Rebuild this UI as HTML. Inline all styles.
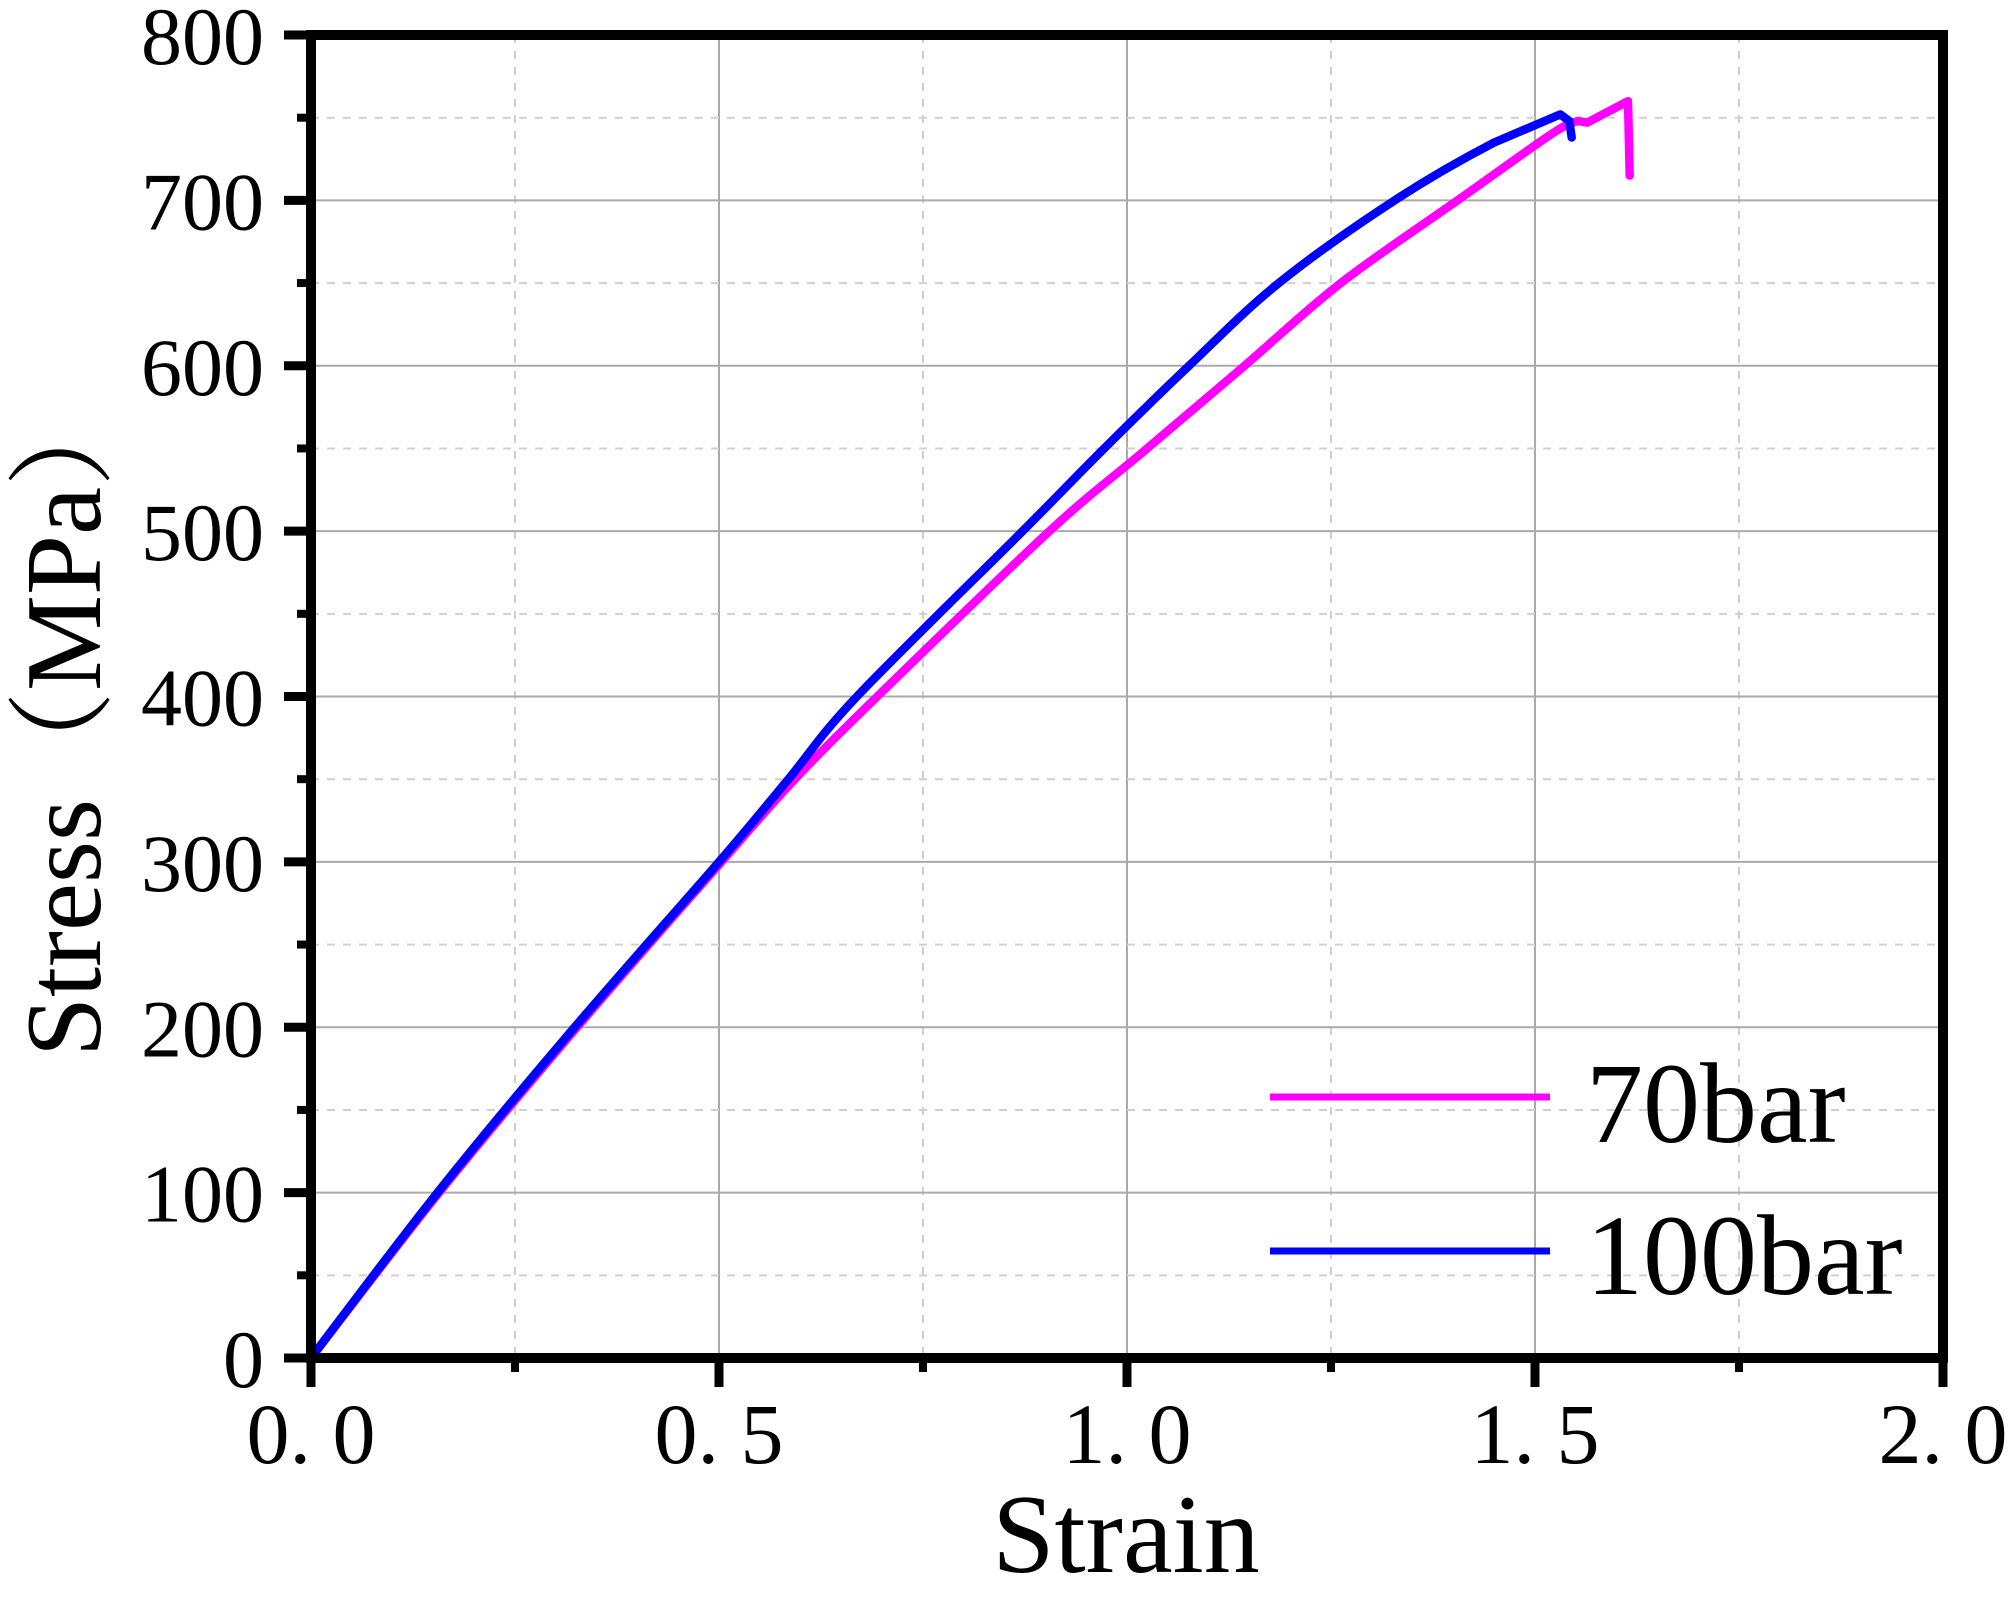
<!DOCTYPE html>
<html><head><meta charset="utf-8"><style>
html,body{margin:0;padding:0;background:#fff;}
svg{display:block;font-family:"Liberation Serif","Noto Serif CJK SC",serif;}
</style></head><body>
<svg id="chart" width="2012" height="1620" viewBox="0 0 2012 1620" xmlns="http://www.w3.org/2000/svg">
<g id="grid"></g>
<g id="series"></g>
<g id="axes"></g>
<text x="1126" y="1572" font-size="112" text-anchor="middle">Strain</text>
<text transform="translate(100,718) rotate(-90)" font-size="108" text-anchor="middle">Stress（MPa）</text>
<g>
<line x1="1270" y1="1097" x2="1550" y2="1097" stroke="#ff00ff" stroke-width="7"/>
<text x="1586" y="1142" font-size="114">70bar</text>
<line x1="1270" y1="1251" x2="1550" y2="1251" stroke="#0000ff" stroke-width="7"/>
<text x="1586" y="1294" font-size="114">100bar</text>
</g>
</svg>
<script>
const xTicks=[0,0.5,1.0,1.5,2.0];
const xTickLabels=["0. 0","0. 5","1. 0","1. 5","2. 0"];
const yTicks=[0,100,200,300,400,500,600,700,800];
const x70=[0,0.157,0.326,0.503,0.593,0.694,0.905,1.02,1.144,1.262,1.405,1.52,1.553,1.564,1.614,1.616];
const y70=[0,100,200,300,350,400,500,548,600,650,700,740,748,747,760,715];
const x100=[0,0.155,0.323,0.50,0.585,0.669,0.872,0.97,1.076,1.186,1.328,1.45,1.531,1.542,1.545];
const y100=[0,100,200,300,350,400,500,549,600,650,700,735,752,748,738];

const L=311,R=1943,T=35,B=1358;
const sx=v=>L+(v-0)/(2-0)*(R-L);
const sy=v=>B-(v-0)/(800-0)*(B-T);
const NS="http://www.w3.org/2000/svg";
function mk(tag,attrs,parent){const e=document.createElementNS(NS,tag);for(const k in attrs)e.setAttribute(k,attrs[k]);parent.appendChild(e);return e;}
const grid=document.getElementById('grid'),axes=document.getElementById('axes'),series=document.getElementById('series');
for(let i=0;i<xTicks.length-1;i++){
  const m=(xTicks[i]+xTicks[i+1])/2;
  const g=mk('line',{x1:sx(m),x2:sx(m),y1:T,y2:B,stroke:'#d0d0d0','stroke-width':2,'stroke-dasharray':'8 8'},grid);
  
  
  const t=mk('line',{x1:sx(m),x2:sx(m),y1:B,y2:B+14,stroke:'#000','stroke-width':8},axes);
  
  
}
xTicks.forEach((v,i)=>{
  if(i>0&&i<xTicks.length-1){const g=mk('line',{x1:sx(v),x2:sx(v),y1:T,y2:B,stroke:'#aaa','stroke-width':2},grid);
  
  }
  const t=mk('line',{x1:sx(v),x2:sx(v),y1:B,y2:B+29,stroke:'#000','stroke-width':9},axes);
  
  
  const lb=mk('text',{x:sx(v),y:1463,'font-size':86,'text-anchor':'middle'},axes);
  lb.textContent=xTickLabels[i];
  
  
});
for(let i=0;i<yTicks.length-1;i++){
  const m=(yTicks[i]+yTicks[i+1])/2;
  const g=mk('line',{x1:L,x2:R,y1:sy(m),y2:sy(m),stroke:'#d0d0d0','stroke-width':2,'stroke-dasharray':'8 8'},grid);
  
  
  const t=mk('line',{x1:L-14,x2:L,y1:sy(m),y2:sy(m),stroke:'#000','stroke-width':8},axes);
  
  
}
yTicks.forEach(v=>{
  if(v>0&&v<800){const g=mk('line',{x1:L,x2:R,y1:sy(v),y2:sy(v),stroke:'#aaa','stroke-width':2},grid);
  
  }
  const t=mk('line',{x1:L-27,x2:L,y1:sy(v),y2:sy(v),stroke:'#000','stroke-width':9},axes);
  
  
  const lb=mk('text',{x:264,y:sy(v)+29,'font-size':82,'text-anchor':'end'},axes);
  lb.textContent=String(v);
  
  
});
const frame=mk('rect',{x:L,y:T,width:R-L,height:B-T,fill:'none',stroke:'#000','stroke-width':10},axes);


function line(xs,ys,col,name){
  const pts=xs.map((x,i)=>[sx(x),sy(ys[i])]);
  const n=pts.length;
  let d='M'+pts[0][0].toFixed(1)+','+pts[0][1].toFixed(1);
  for(let i=0;i<n-1;i++){
    if(i>=n-4){d+=' L'+pts[i+1][0].toFixed(1)+','+pts[i+1][1].toFixed(1);continue;}
    const p0=pts[Math.max(0,i-1)],p1=pts[i],p2=pts[i+1],p3=pts[Math.min(n-1,i+2)];
    const c1=[p1[0]+(p2[0]-p0[0])/6,p1[1]+(p2[1]-p0[1])/6];
    const c2=[p2[0]-(p3[0]-p1[0])/6,p2[1]-(p3[1]-p1[1])/6];
    d+=' C'+c1[0].toFixed(1)+','+c1[1].toFixed(1)+' '+c2[0].toFixed(1)+','+c2[1].toFixed(1)+' '+p2[0].toFixed(1)+','+p2[1].toFixed(1);
  }
  const p=mk('path',{d:d,fill:'none',stroke:col,'stroke-width':8.5,'stroke-linejoin':'round','stroke-linecap':'round'},series);
  
  
}
line(x70,y70,'#ff00ff','series-70bar');
line(x100,y100,'#0000ff','series-100bar');
</script>
</body></html>
